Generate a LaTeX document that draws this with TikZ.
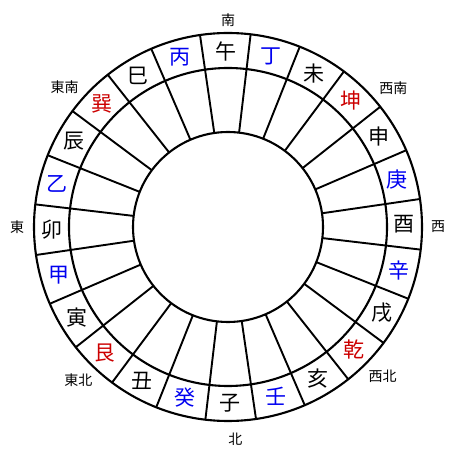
\documentclass[tikz,border=0pt]{standalone}
\usepackage{fontspec}
\setmainfont{Noto Sans CJK JP}
\usepackage{tikz}
\usetikzlibrary{calc}
\definecolor{azul}{HTML}{0000F0}
\definecolor{rojo}{HTML}{CC0000}
\definecolor{negro}{HTML}{000000}
\tikzset{
  anillo/.style={draw=negro,line width=2.1pt},
  radio/.style={draw=negro,line width=1.9pt},
  signo/.style={font=\fontsize{21}{21}\selectfont,inner sep=0pt,text=negro},
  signoazul/.style={signo,text=azul},
  signorojo/.style={signo,text=rojo},
  rumbo/.style={font=\fontsize{14}{14}\selectfont,inner sep=0pt},
}

\begin{document}
\begin{tikzpicture}[x=1pt,y=1pt]
  \useasboundingbox (0,0) rectangle (450,450);
  \coordinate (c) at (228,223);
  % anillos
  \draw[anillo] (c) circle[radius=194];
  \draw[anillo] (c) circle[radius=159];
  \draw[anillo] (c) circle[radius=95];
  % divisiones
  \foreach \a in {0,15,...,345}
    \draw[radio] ($(c)+(\a+7.5+0.8:95)$) -- ($(c)+(\a+7.5+0.8:194)$);
  % veinticuatro montes
  \node[signo]     (wu)   at ($(c)+(90.8:176)$)  {午};
  \node[signoazul] (ding) at ($(c)+(75.8:176)$)  {丁};
  \node[signo]     (wei)  at ($(c)+(60.8:176)$)  {未};
  \node[signorojo] (kun)  at ($(c)+(45.8:176)$)  {坤};
  \node[signo]     (shen) at ($(c)+(30.8:176)$)  {申};
  \node[signoazul] (geng) at ($(c)+(15.8:176)$)  {庚};
  \node[signo]     (you)  at ($(c)+(0.8:176)$)   {酉};
  \node[signoazul] (xin)  at ($(c)+(-14.2:176)$) {辛};
  \node[signo]     (xu)   at ($(c)+(-29.2:176)$) {戌};
  \node[signorojo] (qian) at ($(c)+(-44.2:176)$) {乾};
  \node[signo]     (hai)  at ($(c)+(-59.2:176)$) {亥};
  \node[signoazul] (ren)  at ($(c)+(-74.2:176)$) {壬};
  \node[signo]     (zi)   at ($(c)+(-89.2:176)$) {子};
  \node[signoazul] (gui)  at ($(c)+(-104.2:176)$) {癸};
  \node[signo]     (chou) at ($(c)+(-119.2:176)$) {丑};
  \node[signorojo] (gen)  at ($(c)+(-134.2:176)$) {艮};
  \node[signo]     (yin)  at ($(c)+(-149.2:176)$) {寅};
  \node[signoazul] (jia)  at ($(c)+(-164.2:176)$) {甲};
  \node[signo]     (mao)  at ($(c)+(180.8:176)$) {卯};
  \node[signoazul] (yi)   at ($(c)+(165.8:176)$) {乙};
  \node[signo]     (chen) at ($(c)+(150.8:176)$) {辰};
  \node[signorojo] (xun)  at ($(c)+(135.8:176)$) {巽};
  \node[signo]     (si)   at ($(c)+(120.8:176)$) {巳};
  \node[signoazul] (bing) at ($(c)+(105.8:176)$) {丙};
  % rumbos
  \node[rumbo] (sur)      at ($(c)+(90:207)$)  {南};
  \node[rumbo] (norte)    at ($(c)+(-88:212)$) {北};
  \node[rumbo] (este)     at ($(c)+(180:211)$) {東};
  \node[rumbo] (oeste)    at ($(c)+(0:210)$)   {西};
  \node[rumbo] (sureste)  at ($(c)+(139.5:215)$) {東南};
  \node[rumbo] (suroeste) at ($(c)+(40:216)$)  {西南};
  \node[rumbo] (noreste)  at ($(c)+(225.6:214)$) {東北};
  \node[rumbo] (noroeste) at ($(c)+(316:215)$) {西北};
\end{tikzpicture}
\end{document}
